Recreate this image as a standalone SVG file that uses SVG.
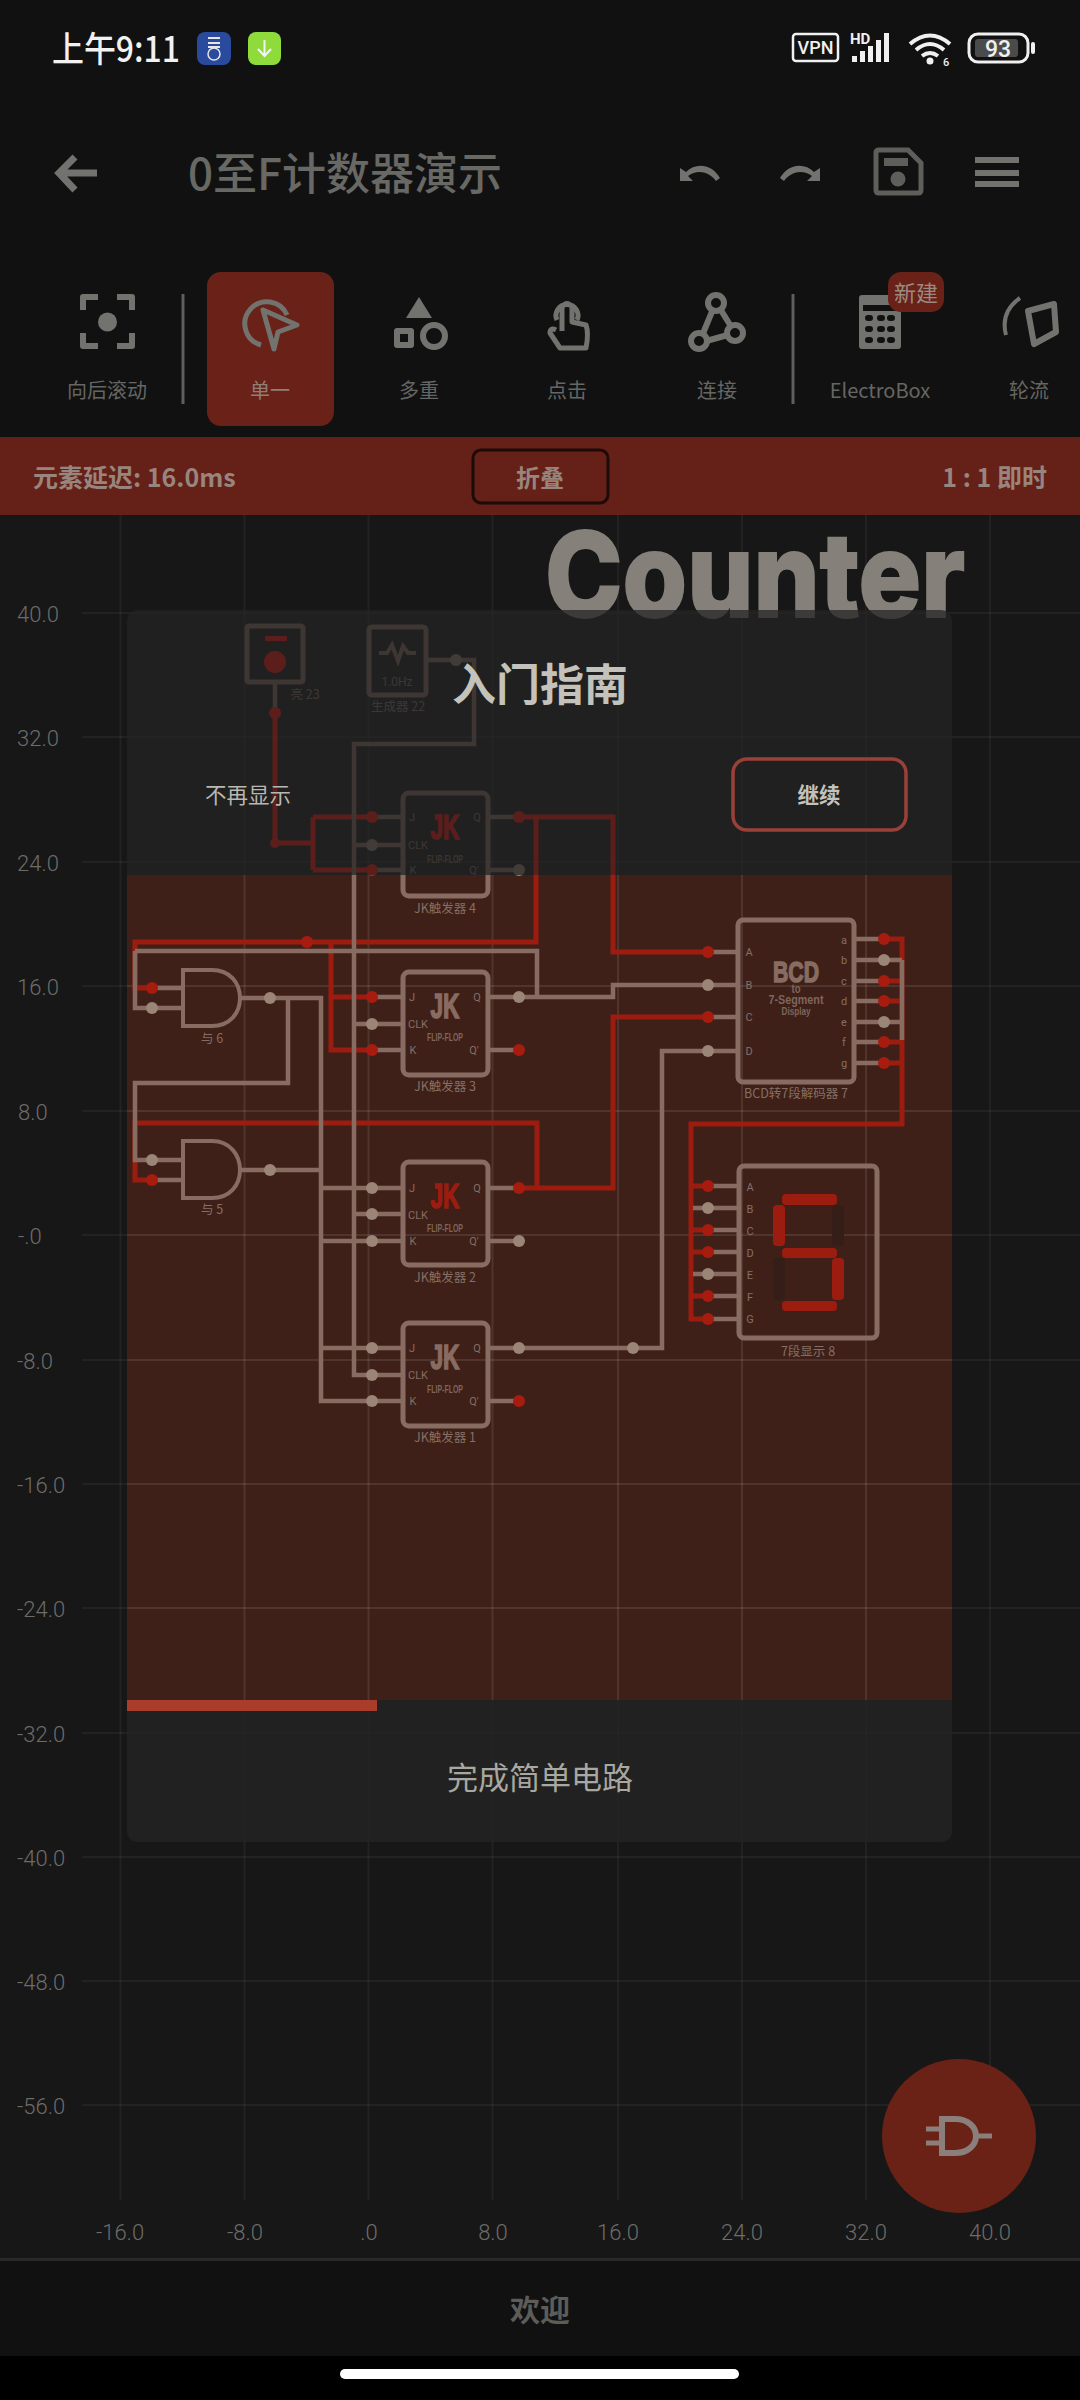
<svg xmlns="http://www.w3.org/2000/svg" width="1080" height="2400" viewBox="0 0 1080 2400">
<style>
text{font-family:"Noto Sans CJK SC","Noto Sans",sans-serif}
.lat{font-family:Roboto,"Noto Sans CJK SC",sans-serif}
.ax{font-family:Roboto,sans-serif;font-weight:300;font-size:22px;fill:#6c6c6a}
.mid{text-anchor:middle}
.grid line{stroke:#fff;stroke-opacity:.05;stroke-width:2}
.grid2 line{stroke:#fff;stroke-opacity:.05;stroke-width:2}
.icon{fill:none;stroke:#72726e;stroke-width:6;stroke-linejoin:round}
.iconf{fill:#72726e}
.tb{font-size:20px;fill:#666663;text-anchor:middle}
.w{fill:none;stroke:#886c62;stroke-width:4.500;stroke-linejoin:miter}
.r{fill:none;stroke:#9c1d10;stroke-width:5}
.rt{fill:none;stroke:#ff0c00;stroke-width:5}
.pg{fill:#9b8577}
.pr{fill:#a81c10}
.prt{fill:#ff0c00}
.box{fill:none;stroke:#886c62;stroke-width:5}
.gate{fill:none;stroke:#886c62;stroke-width:4}
.lbl{font-size:12.500px;fill:#856f64;text-anchor:middle}
.pn{font-family:Roboto,sans-serif;font-size:11px;fill:#856f64;text-anchor:middle}
.jk{font-family:"Liberation Sans",sans-serif;font-weight:700;font-size:35px;text-anchor:middle;stroke-width:1.500}
.ff{font-family:"Liberation Sans",sans-serif;font-weight:700;font-size:11px;fill:#7f655b;text-anchor:middle}
.seg{fill:#9c1d10}
.segd{fill:#351e18}
</style>
<rect width="1080" height="2400" fill="#171717"/>
<rect width="1080" height="437" fill="#111112"/>
<rect x="127" y="875" width="825" height="825" fill="#3e2018"/>
<g class="grid">
<line x1="120.500" y1="515" x2="120.500" y2="2200"/><line x1="244.500" y1="515" x2="244.500" y2="2200"/><line x1="368.500" y1="515" x2="368.500" y2="2200"/><line x1="492.500" y1="515" x2="492.500" y2="2200"/><line x1="618" y1="515" x2="618" y2="2200"/><line x1="742" y1="515" x2="742" y2="2200"/><line x1="866" y1="515" x2="866" y2="2200"/><line x1="990" y1="515" x2="990" y2="2200"/>
<line x1="82" y1="613" x2="1080" y2="613"/><line x1="82" y1="737" x2="1080" y2="737"/><line x1="82" y1="862" x2="1080" y2="862"/><line x1="82" y1="986" x2="1080" y2="986"/><line x1="82" y1="1111" x2="1080" y2="1111"/><line x1="82" y1="1235" x2="1080" y2="1235"/><line x1="82" y1="1360" x2="1080" y2="1360"/><line x1="82" y1="1484" x2="1080" y2="1484"/><line x1="82" y1="1608" x2="1080" y2="1608"/><line x1="82" y1="1733" x2="1080" y2="1733"/><line x1="82" y1="1857" x2="1080" y2="1857"/><line x1="82" y1="1981" x2="1080" y2="1981"/><line x1="82" y1="2105" x2="1080" y2="2105"/>
</g>
<g class="grid2">
<line x1="244.500" y1="875" x2="244.500" y2="1700"/><line x1="368.500" y1="875" x2="368.500" y2="1700"/><line x1="492.500" y1="875" x2="492.500" y2="1700"/><line x1="618" y1="875" x2="618" y2="1700"/><line x1="742" y1="875" x2="742" y2="1700"/><line x1="866" y1="875" x2="866" y2="1700"/>
<line x1="127" y1="986" x2="952" y2="986"/><line x1="127" y1="1111" x2="952" y2="1111"/><line x1="127" y1="1235" x2="952" y2="1235"/><line x1="127" y1="1360" x2="952" y2="1360"/><line x1="127" y1="1484" x2="952" y2="1484"/><line x1="127" y1="1608" x2="952" y2="1608"/>
</g>
<g id="axis-labels">
<text class="ax" x="17" y="622">40.0</text><text class="ax" x="17" y="746">32.0</text><text class="ax" x="17" y="871">24.0</text><text class="ax" x="17" y="995">16.0</text><text class="ax" x="18" y="1120">8.0</text><text class="ax" x="18" y="1244">-.0</text><text class="ax" x="17" y="1369">-8.0</text><text class="ax" x="17" y="1493">-16.0</text><text class="ax" x="17" y="1617">-24.0</text><text class="ax" x="17" y="1742">-32.0</text><text class="ax" x="17" y="1866">-40.0</text><text class="ax" x="17" y="1990">-48.0</text><text class="ax" x="17" y="2114">-56.0</text>
<text class="ax mid" x="120" y="2240">-16.0</text><text class="ax mid" x="245" y="2240">-8.0</text><text class="ax mid" x="369" y="2240">.0</text><text class="ax mid" x="493" y="2240">8.0</text><text class="ax mid" x="618" y="2240">16.0</text><text class="ax mid" x="742" y="2240">24.0</text><text class="ax mid" x="866" y="2240">32.0</text><text class="ax mid" x="990" y="2240">40.0</text>
</g>
<text id="counter-title" x="545" y="617" textLength="420" lengthAdjust="spacingAndGlyphs" style="font-family:Inter,sans-serif;font-weight:800;font-size:118px;fill:#85817a;stroke:#85817a;stroke-width:2">Counter</text>

<g id="connectors">
<path class="rt" d="M275 713V843H313M313 817V870M313 817H372M313 870H372"/>
<path class="rt" d="M519 817H613V875M536 817V875"/>
<path class="r" d="M613 875V952H708"/>
<path class="r" d="M536 875V942H135V988H152"/>
<path class="r" d="M331 942V1050H372M331 997H372"/>
<path class="r" d="M519 1188H613V1017H708"/>
<path class="r" d="M537 1188V1123H135V1180H152"/>
<path class="r" d="M884 939H902V1124H691V1319H708M884 981H902M884 1001H902M884 1042H902M884 1063H902M691 1186H708M691 1230H708M691 1252H708M691 1296H708"/>
<path class="w" d="M275 682V713"/>
<path class="w" d="M426 660H474V744H354V1375H372"/>
<path class="w" d="M354 845H372M354 1024H372M354 1214H372"/>
<path class="w" d="M135 951H537V997M135 951V1008H152"/>
<path class="w" d="M488 997H613V985H708"/>
<path class="w" d="M240 998H321V1401H372M288 998V1083H135V1160H152"/>
<path class="w" d="M240 1170H321M321 1188H372M321 1241H372M321 1348H372"/>
<path class="w" d="M488 1348H662V1051H708"/>
<path class="w" d="M902 960V1040M884 960H902M884 1022H902"/>
<path class="w" d="M693 1208H708M693 1274H708"/>
<path class="w" d="M372 817H403M372 845H403M372 870H403M488 817H519M488 870H519"/>
<path class="w" d="M372 997H403M372 1024H403M372 1050H403M488 1050H519"/>
<path class="w" d="M372 1188H403M372 1214H403M372 1241H403M488 1241H519"/>
<path class="w" d="M372 1348H403M372 1375H403M372 1401H403M488 1401H519"/>
<path class="w" d="M152 988H183M152 1008H183M152 1160H183M152 1180H183"/>
<path class="w" d="M708 952H738M708 985H738M708 1017H738M708 1051H738"/>
<path class="w" d="M854 939H884M854 960H884M854 981H884M854 1001H884M854 1022H884M854 1042H884M854 1063H884"/>
<path class="w" d="M708 1186H739M708 1208H739M708 1230H739M708 1252H739M708 1274H739M708 1296H739M708 1319H739"/>
<path class="w" d="M488 1188H519"/>
<circle class="prt" cx="275" cy="713" r="6"/><circle class="prt" cx="275" cy="843" r="5"/><circle class="prt" cx="372" cy="817" r="6"/><circle class="prt" cx="372" cy="870" r="6"/><circle class="prt" cx="519" cy="817" r="6"/>
<circle class="pg" cx="456" cy="660" r="6"/><circle class="pg" cx="372" cy="845" r="6"/><circle class="pg" cx="519" cy="870" r="6"/>
<circle class="pr" cx="307" cy="942" r="6"/><circle class="pr" cx="372" cy="997" r="6"/><circle class="pg" cx="372" cy="1024" r="6"/><circle class="pr" cx="372" cy="1050" r="6"/><circle class="pg" cx="519" cy="997" r="6"/><circle class="pr" cx="519" cy="1050" r="6"/>
<circle class="pr" cx="152" cy="988" r="6"/><circle class="pg" cx="152" cy="1008" r="6"/><circle class="pg" cx="270" cy="998" r="6"/><circle class="pg" cx="152" cy="1160" r="6"/><circle class="pr" cx="152" cy="1180" r="6"/><circle class="pg" cx="270" cy="1170" r="6"/>
<circle class="pg" cx="372" cy="1188" r="6"/><circle class="pg" cx="372" cy="1214" r="6"/><circle class="pg" cx="372" cy="1241" r="6"/><circle class="pr" cx="519" cy="1188" r="6"/><circle class="pg" cx="519" cy="1241" r="6"/>
<circle class="pg" cx="372" cy="1348" r="6"/><circle class="pg" cx="372" cy="1375" r="6"/><circle class="pg" cx="372" cy="1401" r="6"/><circle class="pg" cx="519" cy="1348" r="6"/><circle class="pr" cx="519" cy="1401" r="6"/><circle class="pg" cx="633" cy="1348" r="6"/>
<circle class="pr" cx="708" cy="952" r="6"/><circle class="pg" cx="708" cy="985" r="6"/><circle class="pr" cx="708" cy="1017" r="6"/><circle class="pg" cx="708" cy="1051" r="6"/>
<circle class="pr" cx="884" cy="939" r="6"/><circle class="pg" cx="884" cy="960" r="6"/><circle class="pr" cx="884" cy="981" r="6"/><circle class="pr" cx="884" cy="1001" r="6"/><circle class="pg" cx="884" cy="1022" r="6"/><circle class="pr" cx="884" cy="1042" r="6"/><circle class="pr" cx="884" cy="1063" r="6"/>
<circle class="pr" cx="708" cy="1186" r="6"/><circle class="pg" cx="708" cy="1208" r="6"/><circle class="pr" cx="708" cy="1230" r="6"/><circle class="pr" cx="708" cy="1252" r="6"/><circle class="pg" cx="708" cy="1274" r="6"/><circle class="pr" cx="708" cy="1296" r="6"/><circle class="pr" cx="708" cy="1319" r="6"/>
</g>

<g id="light-23">
<rect class="box" x="247" y="626" width="56" height="56" rx="2" stroke-width="4"/>
<rect x="265" y="636" width="22" height="5" fill="#ff0c00"/>
<circle cx="275" cy="662" r="11" fill="#ff0c00"/>
<text class="lbl" x="305" y="699">亮 23</text>
</g>
<g id="generator-22">
<rect class="box" x="369" y="627" width="57" height="68" rx="3" stroke-width="4"/>
<path d="M379 653H387L392 645L398 661L403 646L408 653H416" fill="none" stroke="#886c62" stroke-width="4"/>
<text class="pn" x="397" y="686" style="font-size:12px">1.0Hz</text>
<text class="lbl" x="398" y="711">生成器 22</text>
</g>
<g id="jk-4">
<rect class="box" x="403" y="793" width="85" height="103" rx="6"/>
<text class="jk" x="445" y="839" textLength="29" lengthAdjust="spacingAndGlyphs" fill="#ff0c00" stroke="#ff0c00">JK</text>
<text class="ff" x="445" y="863" textLength="36" lengthAdjust="spacingAndGlyphs">FLIP-FLOP</text>
<text class="pn" x="412" y="821">J</text><text class="pn" x="418" y="849">CLK</text><text class="pn" x="413" y="874">K</text><text class="pn" x="477" y="821">Q</text><text class="pn" x="474" y="874">Q'</text>
<text class="lbl" x="445" y="913">JK触发器 4</text>
</g>
<g id="jk-3">
<rect class="box" x="403" y="972" width="85" height="103" rx="6"/>
<text class="jk" x="445" y="1018" textLength="29" lengthAdjust="spacingAndGlyphs" fill="#886c62" stroke="#886c62">JK</text>
<text class="ff" x="445" y="1041" textLength="36" lengthAdjust="spacingAndGlyphs">FLIP-FLOP</text>
<text class="pn" x="412" y="1001">J</text><text class="pn" x="418" y="1028">CLK</text><text class="pn" x="413" y="1054">K</text><text class="pn" x="477" y="1001">Q</text><text class="pn" x="474" y="1054">Q'</text>
<text class="lbl" x="445" y="1091">JK触发器 3</text>
</g>
<g id="jk-2">
<rect class="box" x="403" y="1162" width="85" height="103" rx="6"/>
<text class="jk" x="445" y="1208" textLength="29" lengthAdjust="spacingAndGlyphs" fill="#9c1d10" stroke="#9c1d10">JK</text>
<text class="ff" x="445" y="1232" textLength="36" lengthAdjust="spacingAndGlyphs">FLIP-FLOP</text>
<text class="pn" x="412" y="1192">J</text><text class="pn" x="418" y="1219">CLK</text><text class="pn" x="413" y="1245">K</text><text class="pn" x="477" y="1192">Q</text><text class="pn" x="474" y="1245">Q'</text>
<text class="lbl" x="445" y="1282">JK触发器 2</text>
</g>
<g id="jk-1">
<rect class="box" x="403" y="1323" width="85" height="103" rx="6"/>
<text class="jk" x="445" y="1369" textLength="29" lengthAdjust="spacingAndGlyphs" fill="#886c62" stroke="#886c62">JK</text>
<text class="ff" x="445" y="1393" textLength="36" lengthAdjust="spacingAndGlyphs">FLIP-FLOP</text>
<text class="pn" x="412" y="1352">J</text><text class="pn" x="418" y="1379">CLK</text><text class="pn" x="413" y="1405">K</text><text class="pn" x="477" y="1352">Q</text><text class="pn" x="474" y="1405">Q'</text>
<text class="lbl" x="445" y="1442">JK触发器 1</text>
</g>
<g id="and-6">
<path class="gate" d="M183 970H212C230 970 240 983 240 998C240 1013 230 1026 212 1026H183Z"/>
<text class="lbl" x="212" y="1043">与 6</text>
</g>
<g id="and-5">
<path class="gate" d="M183 1141H212C230 1141 240 1155 240 1170C240 1185 230 1198 212 1198H183Z"/>
<text class="lbl" x="212" y="1214">与 5</text>
</g>
<g id="bcd-7">
<rect class="box" x="738" y="920" width="116" height="162" rx="5"/>
<text class="pn" x="749" y="956">A</text><text class="pn" x="749" y="989">B</text><text class="pn" x="749" y="1021">C</text><text class="pn" x="749" y="1055">D</text>
<text class="pn" x="844" y="944">a</text><text class="pn" x="844" y="964">b</text><text class="pn" x="844" y="985">c</text><text class="pn" x="844" y="1005">d</text><text class="pn" x="844" y="1026">e</text><text class="pn" x="844" y="1046">f</text><text class="pn" x="844" y="1067">g</text>
<text class="jk" x="796" y="982" textLength="46" lengthAdjust="spacingAndGlyphs" style="font-size:30px" fill="#886c62" stroke="#886c62">BCD</text>
<text class="ff" x="796" y="993" textLength="9" lengthAdjust="spacingAndGlyphs" style="font-size:12px">to</text>
<text class="ff" x="796" y="1004" textLength="55" lengthAdjust="spacingAndGlyphs" style="font-size:13px">7-Segment</text>
<text class="ff" x="796" y="1015" textLength="29" lengthAdjust="spacingAndGlyphs">Display</text>
<text class="lbl" x="796" y="1098">BCD转7段解码器 7</text>
</g>
<g id="display-8">
<rect class="box" x="739" y="1166" width="138" height="172" rx="5"/>
<text class="pn" x="750" y="1191">A</text><text class="pn" x="750" y="1213">B</text><text class="pn" x="750" y="1235">C</text><text class="pn" x="750" y="1257">D</text><text class="pn" x="750" y="1279">E</text><text class="pn" x="750" y="1301">F</text><text class="pn" x="750" y="1323">G</text>
<rect class="seg" x="782" y="1194" width="55" height="11" rx="4"/>
<rect class="segd" x="832" y="1205" width="12" height="41" rx="4"/>
<rect class="seg" x="773" y="1205" width="12" height="41" rx="4"/>
<rect class="seg" x="782" y="1248" width="55" height="10" rx="4"/>
<rect class="seg" x="832" y="1258" width="12" height="42" rx="4"/>
<rect class="segd" x="773" y="1258" width="12" height="42" rx="4"/>
<rect class="seg" x="782" y="1301" width="55" height="10" rx="4"/>
<text class="lbl" x="808" y="1356">7段显示 8</text>
</g>

<g id="guide-panel">
<path d="M127 875V622Q127 610 139 610H940Q952 610 952 622V875Z" fill="#242424" fill-opacity=".75"/>
<path d="M127 1700H952V1830Q952 1842 940 1842H139Q127 1842 127 1830Z" fill="#242424" fill-opacity=".8"/>
<rect x="127" y="1700" width="250" height="11" fill="#a93c2a"/>
<text class="mid" x="540" y="701" style="font-size:44px;font-weight:700;fill:#c4c3bb">入门指南</text>
<text class="mid" x="248" y="803" style="font-size:21.500px;fill:#b8b7b0">不再显示</text>
<rect x="733" y="759" width="173" height="71" rx="14" fill="none" stroke="#9a4038" stroke-width="3.500"/>
<text class="mid" x="819" y="803" style="font-size:21.500px;font-weight:700;fill:#c4c3bb">继续</text>
<text class="mid" x="540" y="1789" style="font-size:31px;fill:#a8a7a0">完成简单电路</text>
</g>

<g id="status-bar">
<text x="52" y="62" textLength="128" lengthAdjust="spacingAndGlyphs" style="font-size:35px;font-weight:500;fill:#f2f2f2">上午9:11</text>
<rect x="197" y="32" width="34" height="33" rx="8" fill="#2a4a9e"/>
<path d="M208 38H220M208 43H220M208 47H220" stroke="#e6e6e6" stroke-width="2" fill="none"/><circle cx="214" cy="54" r="6" fill="none" stroke="#e6e6e6" stroke-width="1.500"/>
<rect x="248" y="32" width="33" height="33" rx="8" fill="#8fdb3c"/>
<path d="M264.500 40V56M258 49L264.500 56L271 49" stroke="#f4f4f4" stroke-width="2" fill="none"/>
<rect x="793" y="34" width="45" height="27" rx="3" fill="none" stroke="#f0f0f0" stroke-width="2.500"/>
<text class="mid lat" x="815.500" y="54" style="font-size:18px;font-weight:500;fill:#f0f0f0">VPN</text>
<text class="lat" x="850" y="44" style="font-size:15px;font-weight:700;fill:#f0f0f0">HD</text>
<path d="M852 56h5v6h-5ZM860 51h5v11h-5ZM868 46h5v16h-5ZM876 40h5v22h-5ZM884 33h5v29h-5Z" fill="#f0f0f0"/>
<path d="M910 44Q930 27 950 44M916 50Q930 38 944 50M922 56Q930 50 938 56" fill="none" stroke="#f0f0f0" stroke-width="4"/>
<circle cx="930" cy="61" r="3.500" fill="#f0f0f0"/>
<text class="lat" x="943" y="66" style="font-size:11px;font-weight:500;fill:#f0f0f0">6</text>
<rect x="969" y="34" width="59" height="28" rx="9" fill="none" stroke="#f0f0f0" stroke-width="3"/>
<rect x="975" y="39" width="43" height="18" rx="3" fill="#4b4b4b"/>
<text class="mid lat" x="998" y="57" style="font-size:23px;font-weight:500;fill:#f0f0f0">93</text>
<rect x="1031" y="42" width="4" height="12" rx="2" fill="#f0f0f0"/>
</g>

<g id="app-bar">
<path d="M97 173H62M75 157L59 173L75 190" fill="none" stroke="#72726e" stroke-width="7"/>
<text x="188" y="190" style="font-size:44px;font-weight:500;fill:#686864">0至F计数器演示</text>
<path d="M680 168V181H693L688 176C696 170 708 170 716 181L720 178C712 164 696 162 686 172Z" class="iconf"/>
<path d="M820 168V181H807L812 176C804 170 792 170 784 181L780 178C788 164 804 162 814 172Z" class="iconf"/>
<path d="M879 150H908L921 163V190Q921 193 918 193H879Q876 193 876 190V153Q876 150 879 150Z" fill="none" stroke="#5e5e5b" stroke-width="5"/>
<rect x="884" y="158" width="24" height="8" fill="#5e5e5b"/><circle cx="898" cy="179" r="7.500" fill="#5e5e5b"/>
<path d="M975 157h44v6h-44ZM975 170h44v6h-44ZM975 181h44v6h-44Z" class="iconf"/>
</g>

<g id="toolbar">
<rect x="207" y="272" width="127" height="154" rx="14" fill="#6a2118"/>
<path class="icon" d="M98 297H83V310M117 297H132V310M98 346H83V333M117 346H132V333"/>
<circle cx="107.500" cy="322" r="9.500" class="iconf"/>
<path d="M183 294V404M793 294V404" stroke="#5f5f5d" stroke-width="3"/>
<path d="M261 345A22 22 0 1 1 287 315" class="icon" style="stroke-width:5"/>
<path d="M263 310L297 325L278 332L274 349Z" fill="none" stroke="#72726e" stroke-width="5" stroke-linejoin="round"/>
<path d="M419 297L432 318H406Z" class="iconf"/>
<rect x="397" y="331" width="14" height="14" class="icon"/>
<circle cx="434" cy="336" r="11" class="icon"/>
<path class="icon" style="stroke-width:5" d="M557 320A11 11 0 1 1 577 320M562 331V307Q567 300 572 307V322L586 325Q589 333 586 348H560L550 333Q550 327 556 330"/>
<path class="icon" d="M716 302L699 343L735 333Z"/>
<circle cx="716" cy="303" r="8" fill="#111112" stroke="#72726e" stroke-width="6"/><circle cx="699" cy="341" r="8" fill="#111112" stroke="#72726e" stroke-width="6"/><circle cx="735" cy="333" r="8" fill="#111112" stroke="#72726e" stroke-width="6"/>
<path d="M862 295H898Q901 295 901 298V346Q901 349 898 349H862Q859 349 859 346V298Q859 295 862 295Z" class="iconf"/>
<rect x="863" y="305" width="34" height="6" fill="#111112"/>
<path d="M868 318h2M880 318h2M890 318h2M868 329h2M880 329h2M890 329h2M868 340h2M880 340h2M890 340h2" stroke="#111112" stroke-width="6" stroke-linecap="round"/>
<rect x="888" y="272" width="56" height="40" rx="13" fill="#6a2118"/>
<text class="mid" x="916" y="301" style="font-size:22px;fill:#9a8a80">新建</text>
<path d="M1028 311L1054 304L1056 332L1034 344Z" class="icon"/>
<path d="M1020 298Q1000 312 1006 335" class="icon" style="stroke-width:4"/>
<text class="tb" x="107" y="398">向后滚动</text><text class="tb" x="270" y="398" style="fill:#8f7f76">单一</text><text class="tb" x="419" y="398">多重</text><text class="tb" x="567" y="398">点击</text><text class="tb" x="717" y="398">连接</text><text class="tb" x="880" y="398">ElectroBox</text><text class="tb" x="1029" y="398">轮流</text>
</g>

<g id="sim-bar">
<rect y="437" width="1080" height="78" fill="#652018"/>
<text x="33" y="487" style="font-size:25px;font-weight:700;fill:#98857d">元素延迟: 16.0ms</text>
<rect x="473" y="450" width="135" height="53" rx="8" fill="none" stroke="#1c0b08" stroke-width="3"/>
<text class="mid" x="540" y="487" style="font-size:24px;font-weight:700;fill:#98857d">折叠</text>
<text x="1047" y="487" text-anchor="end" style="font-size:25px;font-weight:700;fill:#98857d">1 : 1 即时</text>
</g>

<g id="fab">
<circle cx="959" cy="2136" r="77" fill="#6a2116"/>
<path d="M942 2119H955C968 2119 976 2127 976 2136C976 2145 968 2153 955 2153H942Z" fill="none" stroke="#8a7f7a" stroke-width="6"/>
<path d="M926 2129H942M926 2143H942M976 2136H992" fill="none" stroke="#8a7f7a" stroke-width="5"/>
</g>

<g id="bottom-bar">
<rect y="2258" width="1080" height="3" fill="#292929"/>
<rect y="2261" width="1080" height="95" fill="#111112"/>
<text class="mid" x="540" y="2321" style="font-size:30px;font-weight:700;fill:#5c5c58">欢迎</text>
<rect y="2356" width="1080" height="44" fill="#000"/>
<rect x="340" y="2369" width="399" height="10" rx="5" fill="#fff"/>
</g>
</svg>
